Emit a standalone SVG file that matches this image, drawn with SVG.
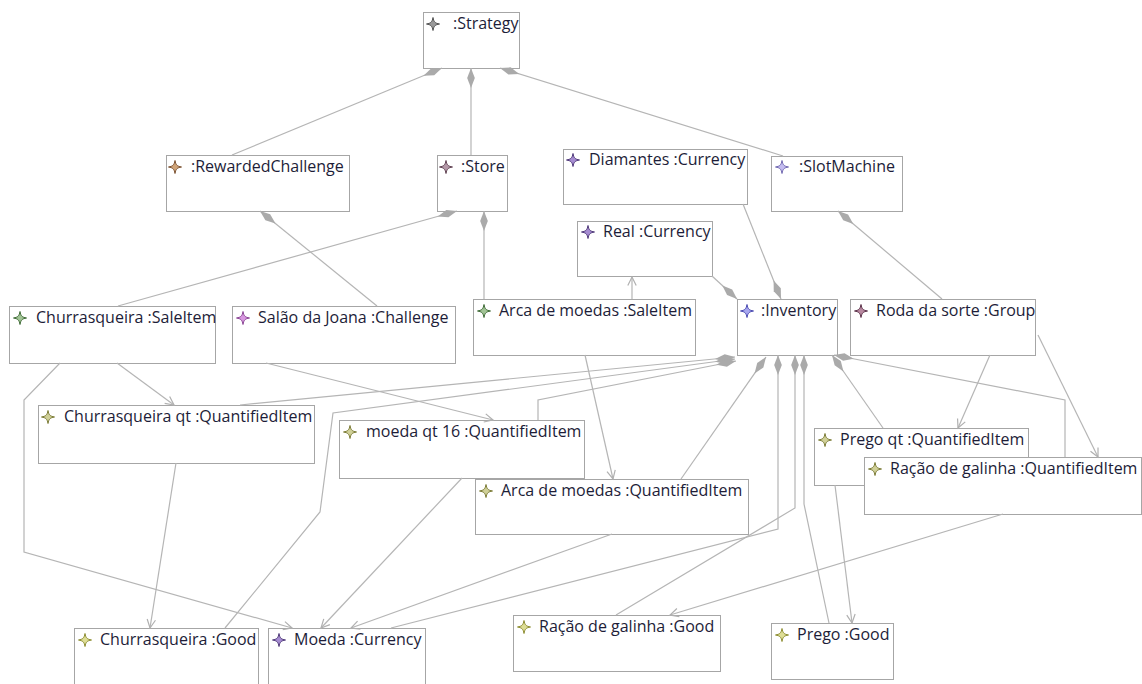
<svg xmlns="http://www.w3.org/2000/svg" width="1142" height="684" viewBox="0 0 1142 684">
  <defs>
    <style>
      .box { fill: #ffffff; stroke: #a6a6a6; stroke-width: 1; }
      .lbl { font-family: "Open Sans", "Noto Sans", sans-serif; font-size: 16px; fill: #1d1d38; }
      .edge { fill: none; stroke: #b5b5b5; stroke-width: 1.2; }
      .comp { marker-start: url(#dia); }
      .ref { marker-end: url(#arr); }
      .ic { stroke-width: 1; }
      .ic-gray { fill: #9a9a9a; stroke: #505050; }
      .ic-brown { fill: #d0a478; stroke: #7a5030; }
      .ic-mauve { fill: #b498a8; stroke: #5e4050; }
      .ic-purple { fill: #a68cd2; stroke: #4e3878; }
      .ic-lilac { fill: #c4bcf0; stroke: #7068b0; }
      .ic-green { fill: #a2c496; stroke: #3e6a36; }
      .ic-magenta { fill: #d898e0; stroke: #8a4494; }
      .ic-blue { fill: #a8a8f0; stroke: #4848b0; }
      .ic-wine { fill: #b888a0; stroke: #5a3048; }
      .ic-olive { fill: #d0d098; stroke: #7a7a34; }
      .ic-good { fill: #dede96; stroke: #8c8c30; }
    </style>
    <!-- four-pointed star used as the element type icon -->
    <symbol id="star" viewBox="-7 -7 14 14" overflow="visible">
      <path d="M0,-6.5 C0.8,-2 2,-0.8 6.5,0 C2,0.8 0.8,2 0,6.5 C-0.8,2 -2,0.8 -6.5,0 C-2,-0.8 -0.8,-2 0,-6.5Z"/>
    </symbol>
    <!-- filled diamond at the container end of a containment link -->
    <marker id="dia" markerUnits="userSpaceOnUse" markerWidth="22" markerHeight="10" viewBox="0 0 22 10" refX="0" refY="5" orient="auto">
      <path d="M0,5 L10,1.2 L20,5 L10,8.8Z" fill="#aaaaaa"/>
    </marker>
    <!-- open arrow head for references -->
    <marker id="arr" markerUnits="userSpaceOnUse" markerWidth="12" markerHeight="12" viewBox="0 0 12 12" refX="10" refY="6" orient="auto">
      <path d="M1.5,1.8 L10,6 L1.5,10.2" fill="none" stroke="#b0b0b0" stroke-width="1.2"/>
    </marker>
  </defs>

  <rect width="1142" height="684" fill="#ffffff"/>

  <!-- nodes -->
  <g id="strategy">
    <rect class="box" x="423.5" y="12.5" width="96" height="56"/>
    <use href="#star" class="ic ic-gray" x="426" y="17" width="14" height="14"/>
    <text class="lbl" x="453" y="29">:Strategy</text>
  </g>
  <g id="rewardedChallenge">
    <rect class="box" x="166.5" y="155.5" width="183" height="56"/>
    <use href="#star" class="ic ic-brown" x="168" y="160" width="14" height="14"/>
    <text class="lbl" x="191" y="172">:RewardedChallenge</text>
  </g>
  <g id="store">
    <rect class="box" x="437.5" y="155.5" width="70" height="56"/>
    <use href="#star" class="ic ic-mauve" x="439" y="160" width="14" height="14"/>
    <text class="lbl" x="461" y="172">:Store</text>
  </g>
  <g id="diamantes">
    <rect class="box" x="563.5" y="149.5" width="184" height="55"/>
    <use href="#star" class="ic ic-purple" x="566" y="153" width="14" height="14"/>
    <text class="lbl" x="589" y="165">Diamantes :Currency</text>
  </g>
  <g id="slotMachine">
    <rect class="box" x="771.5" y="156.5" width="131" height="55"/>
    <use href="#star" class="ic ic-lilac" x="775" y="160" width="14" height="14"/>
    <text class="lbl" x="799" y="172">:SlotMachine</text>
  </g>
  <g id="real">
    <rect class="box" x="577.5" y="221.5" width="135" height="55"/>
    <use href="#star" class="ic ic-purple" x="581" y="225" width="14" height="14"/>
    <text class="lbl" x="603" y="237">Real :Currency</text>
  </g>
  <g id="churrasqueiraSale">
    <rect class="box" x="9.5" y="306.5" width="206" height="57"/>
    <use href="#star" class="ic ic-green" x="13" y="311" width="14" height="14"/>
    <text class="lbl" x="36" y="323">Churrasqueira :SaleItem</text>
  </g>
  <g id="salaoChallenge">
    <rect class="box" x="232.5" y="306.5" width="223" height="57"/>
    <use href="#star" class="ic ic-magenta" x="236" y="311" width="14" height="14"/>
    <text class="lbl" x="258" y="323">Salão da Joana :Challenge</text>
  </g>
  <g id="arcaSale">
    <rect class="box" x="473.5" y="299.5" width="222" height="56"/>
    <use href="#star" class="ic ic-green" x="477" y="304" width="14" height="14"/>
    <text class="lbl" x="499" y="316">Arca de moedas :SaleItem</text>
  </g>
  <g id="inventory">
    <rect class="box" x="737.5" y="299.5" width="100" height="56"/>
    <use href="#star" class="ic ic-blue" x="740" y="304" width="14" height="14"/>
    <text class="lbl" x="761" y="316">:Inventory</text>
  </g>
  <g id="rodaGroup">
    <rect class="box" x="850.5" y="299.5" width="185" height="56"/>
    <use href="#star" class="ic ic-wine" x="854" y="304" width="14" height="14"/>
    <text class="lbl" x="876" y="316">Roda da sorte :Group</text>
  </g>
  <g id="churrasqueiraQt">
    <rect class="box" x="38.5" y="405.5" width="276" height="58"/>
    <use href="#star" class="ic ic-olive" x="41" y="410" width="14" height="14"/>
    <text class="lbl" x="64" y="422">Churrasqueira qt :QuantifiedItem</text>
  </g>
  <g id="moedaQt">
    <rect class="box" x="339.5" y="420.5" width="245" height="58"/>
    <use href="#star" class="ic ic-olive" x="343" y="425" width="14" height="14"/>
    <text class="lbl" x="366" y="437">moeda qt 16 :QuantifiedItem</text>
  </g>
  <g id="arcaQt">
    <rect class="box" x="475.5" y="479.5" width="273" height="55"/>
    <use href="#star" class="ic ic-olive" x="479" y="484" width="14" height="14"/>
    <text class="lbl" x="501" y="496">Arca de moedas :QuantifiedItem</text>
  </g>
  <g id="pregoQt">
    <rect class="box" x="814.5" y="428.5" width="214" height="57"/>
    <use href="#star" class="ic ic-olive" x="818" y="433" width="14" height="14"/>
    <text class="lbl" x="840" y="445">Prego qt :QuantifiedItem</text>
  </g>
  <g id="racaoQt">
    <rect class="box" x="864.5" y="457.5" width="277" height="57"/>
    <use href="#star" class="ic ic-olive" x="868" y="462" width="14" height="14"/>
    <text class="lbl" x="890" y="474">Ração de galinha :QuantifiedItem</text>
  </g>
  <g id="churrasqueiraGood">
    <rect class="box" x="74.5" y="628.5" width="184" height="62"/>
    <use href="#star" class="ic ic-good" x="78" y="633" width="14" height="14"/>
    <text class="lbl" x="100" y="645">Churrasqueira :Good</text>
  </g>
  <g id="moedaCurrency">
    <rect class="box" x="268.5" y="628.5" width="157" height="62"/>
    <use href="#star" class="ic ic-purple" x="272" y="633" width="14" height="14"/>
    <text class="lbl" x="294" y="645">Moeda :Currency</text>
  </g>
  <g id="racaoGood">
    <rect class="box" x="513.5" y="615.5" width="207" height="56"/>
    <use href="#star" class="ic ic-good" x="517" y="620" width="14" height="14"/>
    <text class="lbl" x="539" y="632">Ração de galinha :Good</text>
  </g>
  <g id="pregoGood">
    <rect class="box" x="771.5" y="623.5" width="122" height="56"/>
    <use href="#star" class="ic ic-good" x="775" y="628" width="14" height="14"/>
    <text class="lbl" x="797" y="640">Prego :Good</text>
  </g>

  <!-- connectors -->
  <g id="connectors">
    <!-- containment links (diamond at the container) -->
    <path class="edge comp" d="M442,68 L232,155"/>
    <path class="edge comp" d="M471,68 L471,155"/>
    <path class="edge comp" d="M500,68 L783,156"/>
    <path class="edge comp" d="M457,211 L118,306"/>
    <path class="edge comp" d="M484,211 L484,299"/>
    <path class="edge comp" d="M260,211 L377,306"/>
    <path class="edge comp" d="M737,299 L712,276"/>
    <path class="edge comp" d="M781,299 L743,204"/>
    <path class="edge comp" d="M838,211 L942,299"/>
    <path class="edge comp" d="M735,357 L240,405"/>
    <path class="edge comp" d="M735,359 L333,413 L320,512 L225,628"/>
    <path class="edge comp" d="M736,361 L538,400 L538,420"/>
    <path class="edge comp" d="M766,357 L681,479"/>
    <path class="edge comp" d="M778,355 L778,529 L391,628"/>
    <path class="edge comp" d="M795,355 L795,508 L616,615"/>
    <path class="edge comp" d="M804,355 L804,504 L829,623"/>
    <path class="edge comp" d="M832,355 L883,428"/>
    <path class="edge comp" d="M834,355 L1065,400 L1065,457"/>
    <!-- references (open arrow at the target) -->
    <path class="edge ref" d="M632,299 L632,277"/>
    <path class="edge ref" d="M117,363 L174,405"/>
    <path class="edge ref" d="M60,363 L24,400 L24,552 L292,628"/>
    <path class="edge ref" d="M266,363 L493,420"/>
    <path class="edge ref" d="M585,355 L613,479"/>
    <path class="edge ref" d="M990,355 L958,428"/>
    <path class="edge ref" d="M1038,335 L1098,457"/>
    <path class="edge ref" d="M176,463 L150,628"/>
    <path class="edge ref" d="M462,478 L321,628"/>
    <path class="edge ref" d="M612,534 L351,628"/>
    <path class="edge ref" d="M1003,514 L670,615"/>
    <path class="edge ref" d="M835,485 L852,623"/>
  </g>
</svg>
